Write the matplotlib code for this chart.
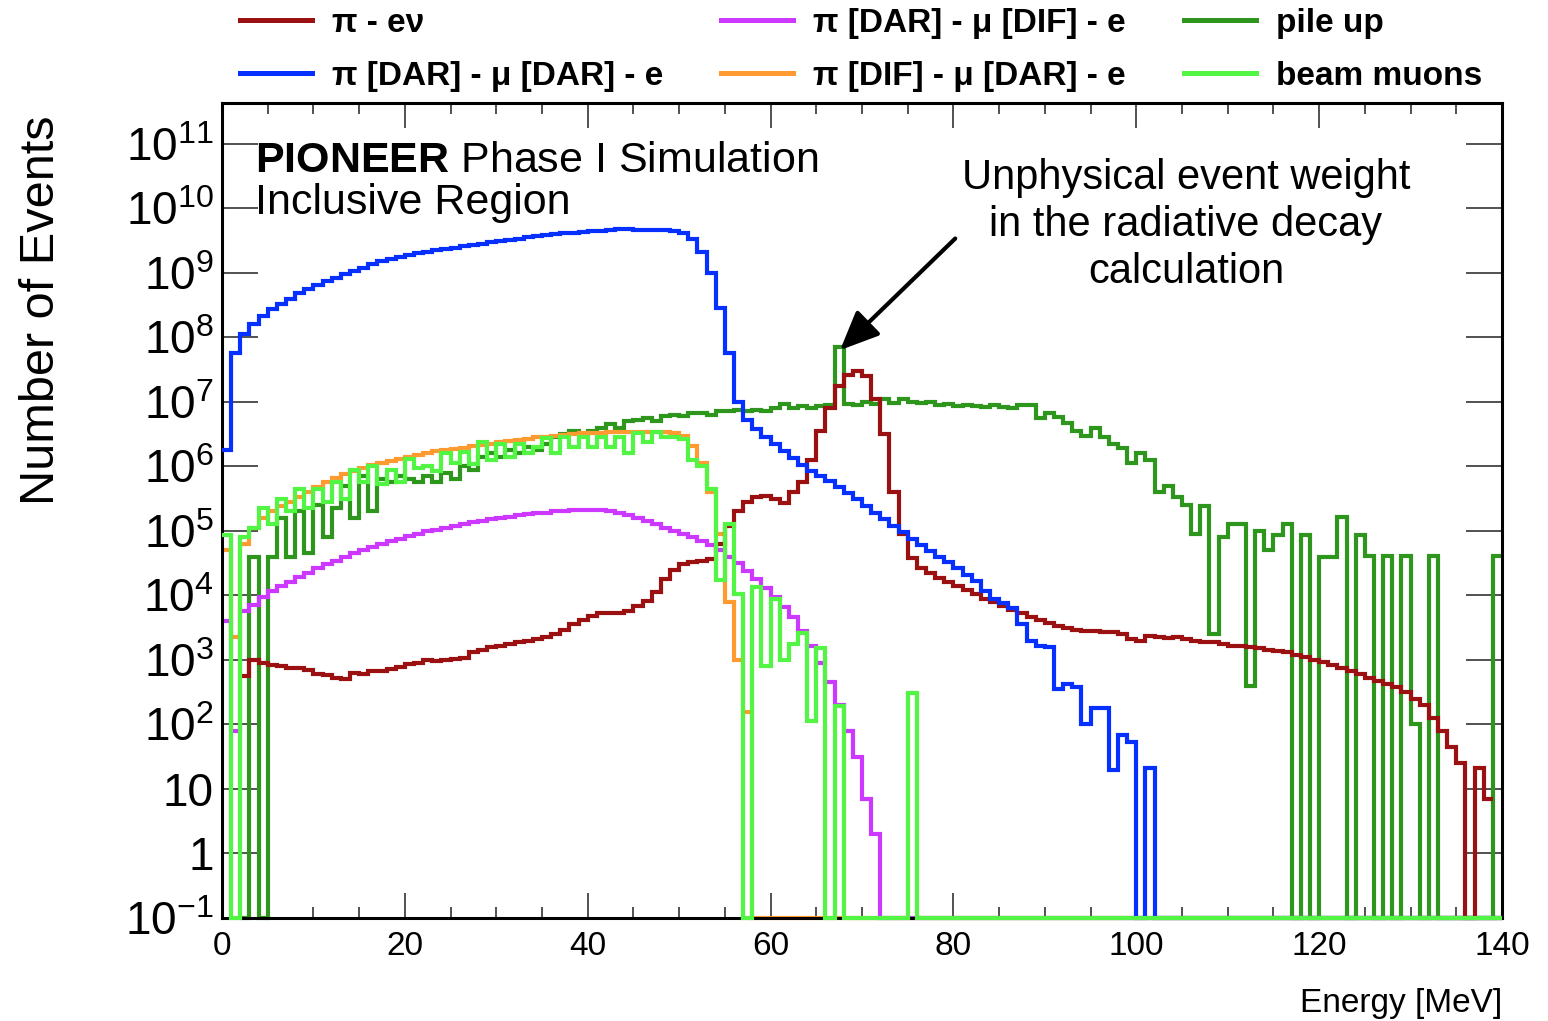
import numpy as np
import matplotlib
matplotlib.use("Agg")
import matplotlib.pyplot as plt
from matplotlib.lines import Line2D
from matplotlib.ticker import MultipleLocator, LogLocator, NullFormatter, FixedLocator, FixedFormatter

plt.rcParams['font.family'] = ['Liberation Sans', 'DejaVu Sans']
plt.rcParams['mathtext.fontset'] = 'custom'
plt.rcParams['mathtext.rm'] = 'Liberation Sans'
plt.rcParams['mathtext.it'] = 'Liberation Sans:italic'
plt.rcParams['mathtext.bf'] = 'Liberation Sans:bold'

# ---------------- data: 1 MeV bins from 0 to 140 MeV, values as log10(events) ----
# -1 means an empty bin (drawn on the bottom of the axis), None means not drawn
energy_edges = np.arange(0, 141, 1.0)

log_pienu = [None, None, 2.75, 3.0, 2.95, 2.92, 2.9, 2.88, 2.87, 2.85,
             2.78, 2.76, 2.72, 2.7, 2.8, 2.78, 2.83, 2.83, 2.86, 2.89,
             2.93, 2.95, 3.0, 2.98, 3.0, 3.02, 3.03, 3.12, 3.15, 3.2,
             3.22, 3.25, 3.27, 3.3, 3.32, 3.35, 3.4, 3.46, 3.55, 3.62,
             3.68, 3.72, 3.72, 3.72, 3.75, 3.83, 3.92, 4.05, 4.25, 4.4,
             4.48, 4.51, 4.53, 4.57, 4.8, 5.08, 5.3, 5.45, 5.53, 5.54,
             5.5, 5.43, 5.6, 5.75, 6.1, 6.55, 6.9, 7.25, 7.42, 7.48,
             7.4, 7.05, 6.5, 5.6, 4.95, 4.58, 4.42, 4.35, 4.27, 4.2,
             4.14, 4.08, 4.02, 3.95, 3.9, 3.84, 3.78, 3.72, 3.67, 3.62,
             3.57, 3.53, 3.49, 3.46, 3.45, 3.44, 3.43, 3.43, 3.4, 3.32,
             3.3, 3.37, 3.35, 3.34, 3.35, 3.33, 3.3, 3.28, 3.27, 3.25,
             3.22, 3.21, 3.2, 3.18, 3.16, 3.14, 3.12, 3.08, 3.04, 3.0,
             2.97, 2.92, 2.87, 2.82, 2.78, 2.72, 2.67, 2.62, 2.58, 2.5,
             2.4, 2.3, 2.1, 1.9, 1.65, 1.4, -1, 1.33, 0.85, None]

log_dar_dar = [6.25, 7.75, 8.05, 8.2, 8.33, 8.43, 8.52, 8.6, 8.68, 8.75,
               8.81, 8.87, 8.92, 8.98, 9.03, 9.08, 9.13, 9.18, 9.22, 9.25,
               9.28, 9.3, 9.32, 9.35, 9.37, 9.39, 9.41, 9.43, 9.45, 9.47,
               9.49, 9.51, 9.53, 9.55, 9.57, 9.58, 9.6, 9.61, 9.62, 9.63,
               9.64, 9.65, 9.66, 9.67, 9.67, 9.66, 9.66, 9.66, 9.66, 9.65,
               9.62, 9.52, 9.32, 9.0, 8.45, 7.75, 7.0, 6.72, 6.58, 6.46,
               6.35, 6.24, 6.13, 6.02, 5.93, 5.85, 5.77, 5.68, 5.59, 5.5,
               5.38, 5.28, 5.18, 5.08, 4.98, 4.88, 4.78, 4.68, 4.6, 4.52,
               4.43, 4.32, 4.22, 4.07, 3.95, 3.88, 3.8, 3.55, 3.3, 3.22,
               3.2, 2.55, 2.62, 2.58, 2.0, 2.25, 2.25, 1.3, 1.83, 1.72,
               -1, 1.32] + [-1] * 38

log_dar_dif = [3.6, 1.9, 3.75, 3.85, 3.97, 4.06, 4.14, 4.21, 4.28, 4.35,
               4.42, 4.48, 4.54, 4.6, 4.65, 4.7, 4.75, 4.8, 4.84, 4.88,
               4.92, 4.95, 4.99, 5.02, 5.05, 5.08, 5.11, 5.14, 5.16, 5.18,
               5.2, 5.22, 5.24, 5.26, 5.27, 5.28, 5.3, 5.31, 5.32, 5.33,
               5.33, 5.33, 5.31, 5.28, 5.24, 5.2, 5.15, 5.1, 5.05, 5.0,
               4.95, 4.9, 4.85, 4.78, 4.7, 4.6, 4.5, 4.38, 4.25, 4.12,
               3.98, 3.82, 3.66, 3.45, 3.22, 2.95, 2.65, 2.3, 1.9, 1.5,
               0.85, 0.3] + [-1] * 68

log_dif_dar = [4.7, 3.35, 4.8, 5.05, 5.2, 5.3, 5.38, 5.45, 5.52, 5.6,
               5.68, 5.76, 5.82, 5.88, 5.93, 5.98, 6.02, 6.05, 6.08, 6.11,
               6.14, 6.17, 6.2, 6.23, 6.25, 6.27, 6.29, 6.31, 6.33, 6.35,
               6.37, 6.39, 6.41, 6.43, 6.45, 6.46, 6.47, 6.48, 6.5, 6.51,
               6.52, 6.52, 6.53, 6.53, 6.53, 6.53, 6.53, 6.53, 6.53, 6.52,
               6.47, 6.32, 6.05, 5.6, 4.95, 3.9, 3.0, 2.2] + [-1] * 82

log_pileup = [None, None, -1, 4.6, -1, 4.6, 5.2, 4.6, 5.3, 4.65,
              5.4, 4.9, 5.35, 5.7, 5.2, 5.85, 5.3, 5.8, 5.75, 5.85,
              5.8, 5.75, 5.85, 5.75, 5.9, 5.8, 6.0, 5.95, 6.15, 6.2,
              6.15, 6.25, 6.2, 6.3, 6.25, 6.35, 6.45, 6.5, 6.55, 6.5,
              6.55, 6.6, 6.65, 6.6, 6.7, 6.72, 6.75, 6.7, 6.78, 6.8,
              6.78, 6.82, 6.83, 6.8, 6.85, 6.85, 6.87, 6.85, 6.88, 6.86,
              6.9, 6.96, 6.9, 6.93, 6.9, 6.93, 6.95, 7.85, 6.97, 6.95,
              7.0, 6.97, 7.05, 6.98, 7.05, 7.0, 6.98, 7.0, 6.95, 6.97,
              6.93, 6.95, 6.93, 6.92, 6.95, 6.92, 6.9, 6.95, 6.95, 6.75,
              6.82, 6.77, 6.67, 6.55, 6.47, 6.6, 6.45, 6.35, 6.28, 6.05,
              6.2, 6.1, 5.6, 5.7, 5.53, 5.4, 4.95, 5.38, 3.4, 4.9,
              5.11, 5.11, 2.6, 5.0, 4.7, 4.94, 5.11, -1, 4.94, -1,
              4.59, 4.59, 5.22, -1, 4.94, 4.61, -1, 4.61, -1, 4.61,
              2.0, -1, 4.61, -1, -1, -1, -1, -1, -1, 4.61]

log_beam_muons = [4.94, -1, 4.9, 5.05, 5.35, 5.1, 5.5, 5.3, 5.65, 5.35,
                  5.65, 5.45, 5.75, 5.5, 5.95, 5.75, 6.0, 5.72, 5.95, 5.75,
                  6.12, 5.98, 6.0, 5.93, 6.2, 6.05, 6.22, 6.03, 6.38, 6.1,
                  6.35, 6.15, 6.35, 6.2, 6.3, 6.44, 6.2, 6.45, 6.3, 6.46,
                  6.3, 6.45, 6.3, 6.46, 6.2, 6.52, 6.38, 6.53, 6.45, 6.46,
                  6.42, 6.1, 6.0, 5.65, 4.24, 5.11, 4.02, -1, 4.13, 2.9,
                  3.95, 3.0, 3.25, 3.41, 2.05, 3.18, -1, 2.28, -1, -1,
                  -1, -1, -1, -1, -1, 2.49] + [-1] * 64

series = [
    ("π - eν", log_pienu, "#9b1010"),
    ("π [DAR] - μ [DAR] - e", log_dar_dar, "#0530ff"),
    ("π [DAR] - μ [DIF] - e", log_dar_dif, "#cc38ff"),
    ("π [DIF] - μ [DAR] - e", log_dif_dar, "#ff9a30"),
    ("pile up", log_pileup, "#2e961c"),
    ("beam muons", log_beam_muons, "#52f544"),
]
zorders = {"π - eν": 2.6, "π [DAR] - μ [DAR] - e": 2.7, "π [DAR] - μ [DIF] - e": 2.5,
           "π [DIF] - μ [DAR] - e": 2.3, "pile up": 2.2, "beam muons": 3.0}


def to_counts(logs):
    arr = np.array([np.nan if v is None else v for v in logs], dtype=float)
    return 10.0 ** arr


W, H = 1548, 1021
fig = plt.figure(figsize=(W / 100, H / 100), dpi=100)
ax = fig.add_axes([222 / W, 1 - 918 / H, (1502 - 222) / W, (918 - 103) / H])
ax.set_yscale('log')
ax.set_xlim(0, 140)
ax.set_ylim(0.1, 10 ** 11.63)

lw = 3.0
handles = []
for name, logs, color in series:
    vals = to_counts(logs)
    ax.stairs(vals, energy_edges, baseline=None, color=color, lw=lw,
              zorder=zorders[name], clip_on=False)
    handles.append(Line2D([], [], color=color, lw=3.6, label=name))

# axes ticks (ROOT style, inside, all sides)
ax.xaxis.set_major_locator(MultipleLocator(20))
ax.xaxis.set_minor_locator(MultipleLocator(5))
ymaj = [10.0 ** k for k in range(-1, 12)]
ylab = ['$10^{-1}$', '1', '10'] + ['$10^{%d}$' % k for k in range(2, 12)]
ax.yaxis.set_major_locator(FixedLocator(ymaj))
ax.yaxis.set_major_formatter(FixedFormatter(ylab))
ax.yaxis.set_minor_locator(LogLocator(base=10, subs=np.arange(2, 10)))
ax.yaxis.set_minor_formatter(NullFormatter())
ax.tick_params(which='both', direction='in', top=True, right=True, color='#333333')
ax.tick_params(axis='x', which='major', length=18, width=1.2, labelsize=24, pad=9)
ax.tick_params(axis='x', which='minor', length=8, width=1.2)
ax.tick_params(axis='y', which='major', length=26, width=1.2, labelsize=33, pad=6)
ax.tick_params(axis='y', which='minor', length=13, width=1.2)
for s in ax.spines.values():
    s.set_linewidth(2.2)

# axis titles
fig.text(42 / W, 1 - 310 / H, "Number of Events", rotation=90, ha='center', va='center', fontsize=35)
fig.text(1502 / W, 1 - 1003 / H, "Energy [MeV]", ha='right', va='center', fontsize=24)

# plot labels
fig.text(255 / W, 1 - 172 / H, r"$\mathbf{PIONEER}$ Phase I Simulation", ha='left', va='baseline', fontsize=31)
fig.text(255 / W, 1 - 214 / H, "Inclusive Region", ha='left', va='baseline', fontsize=31)

fig.text(1186 / W, 1 - 225 / H, "Unphysical event weight\nin the radiative decay\ncalculation",
         ha='center', va='center', multialignment='center', fontsize=30, linespacing=1.22)
ax.annotate("", xy=(67.6, 10 ** 7.8), xytext=(80.2, 10 ** 9.53),
            arrowprops=dict(arrowstyle='-|>,head_length=0.8,head_width=0.35', lw=3,
                            color='black', mutation_scale=30, shrinkA=0, shrinkB=0))

# legend (two rows, three columns, above the frame)
leg = fig.legend(handles, [h.get_label() for h in handles],
                 ncol=3, loc='upper left', bbox_to_anchor=(240 / W, 1 - 8 / H), frameon=False,
                 borderpad=0, borderaxespad=0, handlelength=2.15, handletextpad=0.6,
                 columnspacing=1.75, labelspacing=0.65, prop={'weight': 'bold', 'size': 24})

fig.savefig("out.png", dpi=100)
